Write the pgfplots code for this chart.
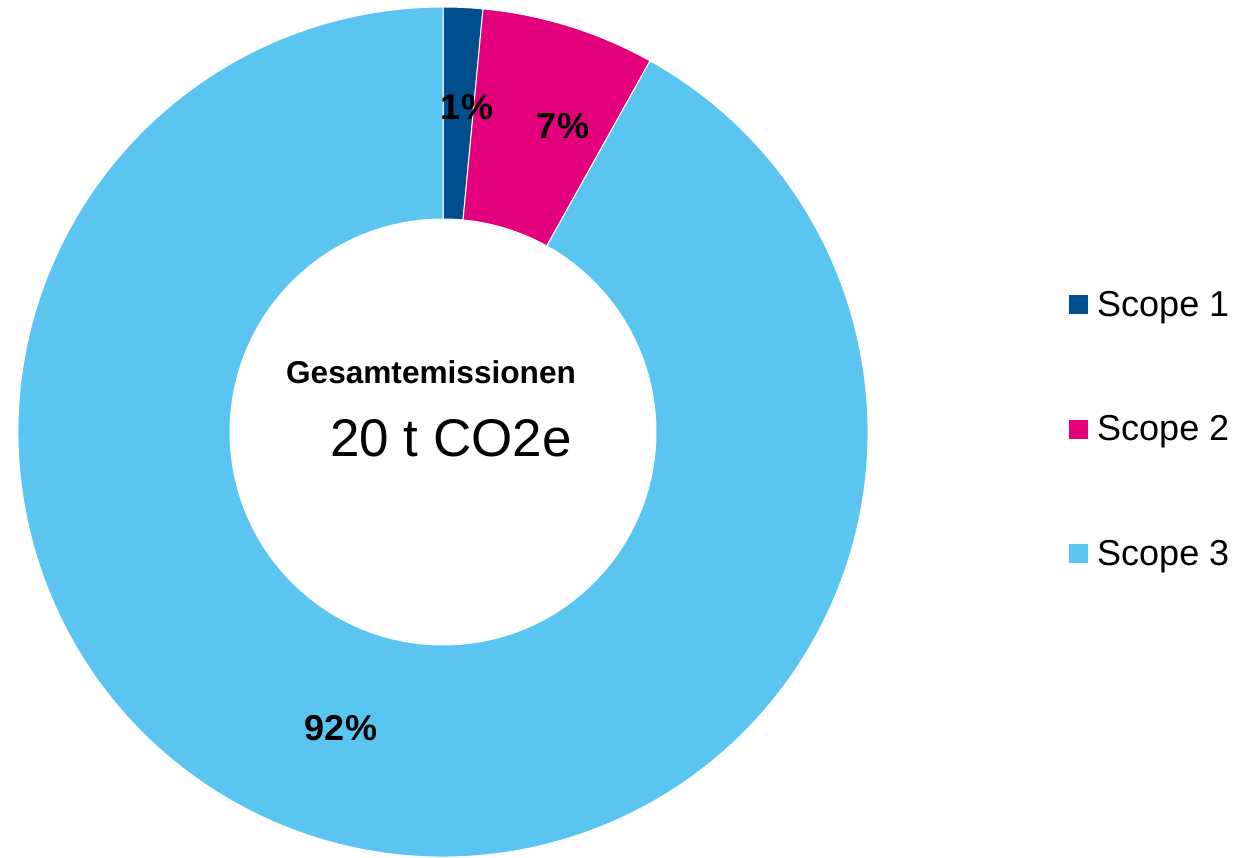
\documentclass[border=0pt]{standalone}
\usepackage{pgfplots}
\usepackage{pgfplotstable}
\usepackage{fontspec}
\setmainfont{Liberation Sans}
\pgfplotsset{compat=1.18}
\definecolor{sA}{HTML}{004E8C}
\definecolor{sB}{HTML}{E4007C}
\definecolor{sC}{HTML}{5BC5F1}
\pgfplotstableread{
label value
S1 1.5
S2 6.6
S3 91.9
}\donutdata
\begin{document}%
\begin{tikzpicture}
\pgfplotstablegetelem{0}{value}\of\donutdata \let\va\pgfplotsretval
\pgfplotstablegetelem{1}{value}\of\donutdata \let\vb\pgfplotsretval
\pgfplotstablegetelem{2}{value}\of\donutdata \let\vc\pgfplotsretval
\pgfmathsetmacro\aA{90}
\pgfmathsetmacro\aB{90-3.6*\va}
\pgfmathsetmacro\aC{\aB-3.6*\vb}
\pgfmathsetmacro\aD{\aC-3.6*\vc}
\begin{axis}[
  scale only axis, width=1248pt, height=857pt,
  xmin=0, xmax=1248, ymin=0, ymax=857,
  hide axis, clip=false,
  legend style={at={(axis cs:1069,568)}, anchor=north west, draw=none, fill=none,
    font=\fontsize{36}{40}\selectfont, row sep=94pt, inner sep=0pt,
    legend cell align=left},
  legend image code/.code={\fill[#1, draw=none] (0pt,-9.5pt) rectangle (19pt,9.5pt); \path[draw=none, fill=none] (0pt,0pt) -- (26pt,0pt);},
]
\coordinate (BL) at (axis cs:0,0);
\coordinate (TR) at (axis cs:1248,857);
\fill[sA, draw=white, line width=1pt] ([shift={(\aA:425pt)}]axis cs:443,425) arc[start angle=\aA, end angle=\aB, radius=425pt]
  -- ([shift={(\aB:213pt)}]axis cs:443,425) arc[start angle=\aB, end angle=\aA, radius=213pt] -- cycle;
\fill[sB, draw=white, line width=1pt] ([shift={(\aB:425pt)}]axis cs:443,425) arc[start angle=\aB, end angle=\aC, radius=425pt]
  -- ([shift={(\aC:213pt)}]axis cs:443,425) arc[start angle=\aC, end angle=\aB, radius=213pt] -- cycle;
\fill[sC, draw=white, line width=1pt] ([shift={(\aC:425pt)}]axis cs:443,425) arc[start angle=\aC, end angle=\aD, radius=425pt]
  -- ([shift={(\aD:213pt)}]axis cs:443,425) arc[start angle=\aD, end angle=\aC, radius=213pt] -- cycle;
\addlegendimage{fill=sA}
\addlegendentry{Scope 1}
\addlegendimage{fill=sB}
\addlegendentry{Scope 2}
\addlegendimage{fill=sC}
\addlegendentry{Scope 3}
\node[font=\fontsize{36}{40}\selectfont\bfseries, inner sep=0pt] at (axis cs:467,750) {1\%};
\node[font=\fontsize{36}{40}\selectfont\bfseries, inner sep=0pt] at (axis cs:563,731) {7\%};
\node[font=\fontsize{36}{40}\selectfont\bfseries, inner sep=0pt] at (axis cs:341,129) {92\%};
\node[font=\fontsize{31.6}{36}\selectfont\bfseries, inner sep=0pt] at (axis cs:431,485) {Gesamtemissionen};
\node[font=\fontsize{53}{60}\selectfont, inner sep=0pt] at (axis cs:451,419) {20 t CO2e};
\end{axis}
\pgfresetboundingbox
\path[use as bounding box] (BL) rectangle (TR);
\end{tikzpicture}%
\end{document}
